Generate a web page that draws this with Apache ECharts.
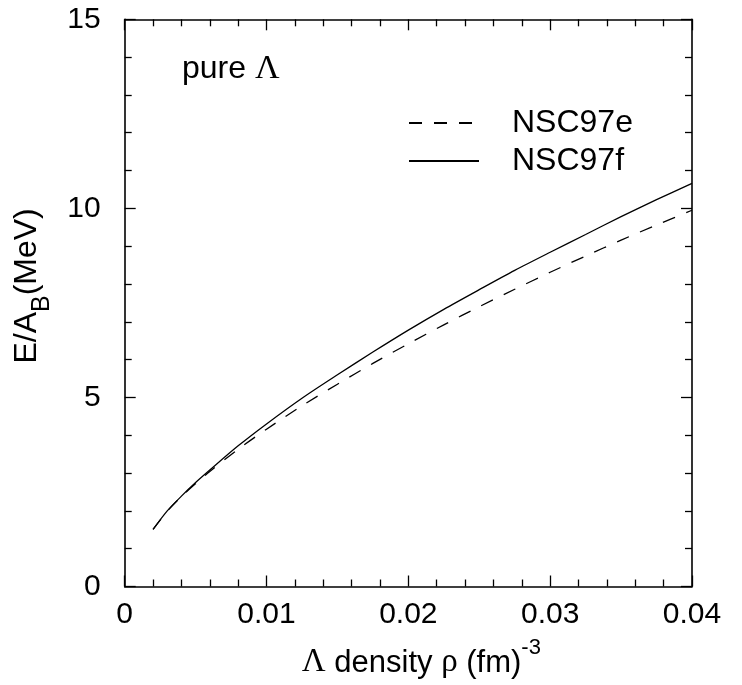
<!DOCTYPE html>
<html>
<head>
<meta charset="utf-8">
<script src="https://cdn.jsdelivr.net/npm/echarts@6/dist/echarts.min.js"></script>
<style>html,body{margin:0;padding:0;background:#fff;}#c{width:742px;height:685px;}</style>
</head>
<body>
<div id="c"></div>
<script>
// Density (fm^-3)
const density = [0.002, 0.003, 0.004, 0.005, 0.006, 0.008, 0.010, 0.0125, 0.015, 0.0175, 0.020, 0.0225, 0.025, 0.0275, 0.030, 0.0325, 0.035, 0.0375, 0.040];
// E/A_B (MeV)
const nsc97e = [1.51, 1.99, 2.38, 2.72, 3.04, 3.63, 4.16, 4.78, 5.35, 5.90, 6.42, 6.92, 7.40, 7.86, 8.31, 8.74, 9.16, 9.56, 9.95];
const nsc97f = [1.51, 2.00, 2.39, 2.75, 3.08, 3.72, 4.30, 4.98, 5.60, 6.20, 6.78, 7.33, 7.85, 8.36, 8.84, 9.31, 9.78, 10.23, 10.66];
const xTicks = [0, 0.01, 0.02, 0.03, 0.04];
const yTicks = [0, 5, 10, 15];

const pairs = (ys) => density.map((x, i) => [x, ys[i]]);
const SANS = 'Liberation Sans, Arial, Helvetica, sans-serif';
const SERIF = 'Liberation Serif, Times New Roman, serif';

const axisCommon = {
  axisLine: { show: true, onZero: false, lineStyle: { color: '#000', width: 1.6 } },
  axisTick: { show: true, inside: true, length: 11, lineStyle: { color: '#000', width: 1.3 } },
  minorTick: { show: true, splitNumber: 5, length: 7, lineStyle: { color: '#000', width: 1.3 } },
  splitLine: { show: false },
  minorSplitLine: { show: false }
};

const chart = echarts.init(document.getElementById('c'));
chart.setOption({
  backgroundColor: '#fff',
  animation: false,
  grid: { left: 124.7, right: 50, top: 19.3, bottom: 98.5, containLabel: false },
  xAxis: [
    Object.assign({}, axisCommon, {
      type: 'value', min: 0, max: 0.04, interval: 0.01, position: 'bottom',
      axisLabel: {
        color: '#000', fontSize: 30, fontFamily: SANS, margin: 13,
        formatter: (v) => { const s = xTicks.find(t => Math.abs(t - v) < 1e-9); return s === 0 ? '0' : String(+v.toFixed(2)); }
      },
      name: '{g|Λ}{n| density }{g|ρ}{n| (fm)}{s|-3}',
      nameLocation: 'middle', nameGap: 50,
      nameTextStyle: {
        padding: [0, 0, 0, 26],
        rich: {
          n: { fontFamily: SANS, fontSize: 31, color: '#000', lineHeight: 42, verticalAlign: 'bottom' },
          g: { fontFamily: SERIF, fontSize: 33, color: '#000', lineHeight: 42, verticalAlign: 'bottom' },
          s: { fontFamily: SANS, fontSize: 22, color: '#000', lineHeight: 22, verticalAlign: 'top' }
        }
      }
    }),
    Object.assign({}, axisCommon, {
      type: 'value', min: 0, max: 0.04, interval: 0.01, position: 'top',
      axisLabel: { show: false }
    })
  ],
  yAxis: [
    Object.assign({}, axisCommon, {
      type: 'value', min: 0, max: 15, interval: 5, position: 'left',
      axisLabel: { color: '#000', fontSize: 30, fontFamily: SANS, margin: 24,
        formatter: (v) => String(yTicks.find(t => t === v) ?? v) },
      name: '{n|E/A}{b|B}{n|(MeV)}',
      nameLocation: 'middle', nameGap: 70, nameRotate: 90,
      nameTextStyle: {
        padding: [0, 0, 0, 34],
        rich: {
          n: { fontFamily: SANS, fontSize: 32, color: '#000', lineHeight: 44, verticalAlign: 'top' },
          b: { fontFamily: SANS, fontSize: 25, color: '#000', lineHeight: 25, verticalAlign: 'bottom' }
        }
      }
    }),
    Object.assign({}, axisCommon, {
      type: 'value', min: 0, max: 15, interval: 5, position: 'right',
      axisLabel: { show: false }
    })
  ],
  legend: {
    orient: 'vertical', left: 408, top: 107, padding: 0, itemWidth: 70, itemHeight: 32, itemGap: 6,
    data: ['NSC97e', 'NSC97f'],
    itemStyle: { color: 'rgba(0,0,0,0)', borderColor: 'rgba(0,0,0,0)', borderWidth: 0 },
    textStyle: { color: '#000', fontSize: 32, fontFamily: SANS, padding: [0, 0, 0, 28], lineHeight: 32 }
  },
  graphic: [{
    type: 'text', left: 182, top: 52,
    style: {
      text: '{n|pure }{g|Λ}',
      rich: {
        n: { fontFamily: SANS, fontSize: 32, fill: '#000' },
        g: { fontFamily: SERIF, fontSize: 34, fill: '#000' }
      }
    }
  }],
  series: [
    {
      name: 'NSC97e', type: 'line', data: pairs(nsc97e), smooth: 0.3, symbol: 'none', showSymbol: false,
      lineStyle: { color: '#000', width: 1.3, type: [13, 12] }, itemStyle: { color: '#000' }
    },
    {
      name: 'NSC97f', type: 'line', data: pairs(nsc97f), smooth: 0.3, symbol: 'none', showSymbol: false,
      lineStyle: { color: '#000', width: 1.3, type: 'solid' }, itemStyle: { color: '#000' }
    }
  ]
});
</script>
</body>
</html>
